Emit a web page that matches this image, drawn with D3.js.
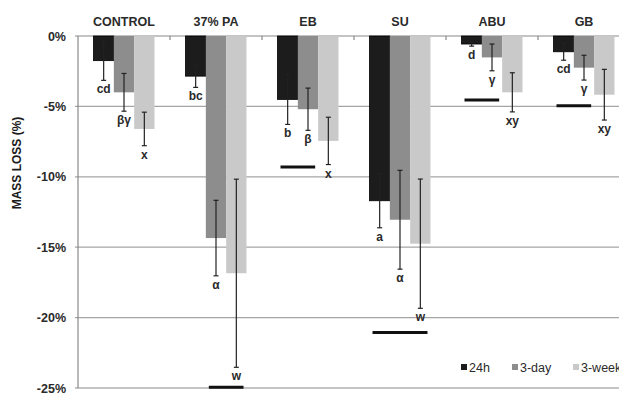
<!DOCTYPE html>
<html>
<head>
<meta charset="utf-8">
<script src="https://cdn.jsdelivr.net/npm/d3@7"></script>
<style>
  body { margin: 0; background: #fff; }
  svg { display: block; font-family: "Liberation Sans", Arial, sans-serif; }
</style>
</head>
<body>
<div id="main"></div>
<script>
/* Size */
const width = 619, height = 393;

/* Data */
const categories = ["CONTROL", "37% PA", "EB", "SU", "ABU", "GB"];
const series = ["24h", "3-day", "3-week"];
const v24h   = [-1.75, -2.85, -4.5, -11.7, -0.57, -1.12];
const v3day  = [-4.0, -14.35, -5.2, -13.05, -1.52, -2.25];
const v3week = [-6.6, -16.85, -7.45, -14.75, -4.0, -4.17];
const err24h   = [1.4, 0.8, 1.78, 1.92, 0.15, 0.6];
const err3day  = [1.34, 2.68, 1.5, 3.51, 0.95, 0.88];
const err3week = [1.19, 6.68, 1.68, 4.59, 1.39, 1.8];
const lab24h   = ["cd", "bc", "b", "a", "d", "cd"];
const lab3day  = ["βγ", "α", "β", "α", "γ", "γ"];
const lab3week = ["x", "w", "x", "w", "xy", "xy"];
const yTicks = [0, -5, -10, -15, -20, -25];
// significance lines: category, first series, last series, level (%)
const sigCat  = ["37% PA", "EB", "SU", "ABU", "GB"];
const sigFrom = ["3-day", "24h", "24h", "24h", "24h"];
const sigTo   = ["3-week", "3-day", "3-week", "3-day", "3-day"];
const sigY    = [-24.95, -9.3, -21.05, -4.55, -4.95];

const colors = {"24h": "#1c1c1c", "3-day": "#8d8d8d", "3-week": "#c9c9c9"};
const values = [v24h, v3day, v3week];
const errs = [err24h, err3day, err3week];
const labels = [lab24h, lab3day, lab3week];

const rows = [];
categories.forEach((c, i) => {
  series.forEach((s, j) => {
    rows.push({cat: c, ser: s, v: values[j][i], e: errs[j][i], lab: labels[j][i]});
  });
});

/* Scales */
const x0 = d3.scaleBand().domain(categories).range([78, 630]).padding(0);
const x1 = d3.scaleBand().domain(series).range([15.5, 76.5]);
const y = d3.scaleLinear().domain([0, -25]).range([36, 388]);

const svg = d3.select("#main").append("svg")
  .attr("width", width).attr("height", height);

/* Grid */
svg.append("g").selectAll("line")
  .data(yTicks).enter().append("line")
  .attr("x1", 75).attr("x2", width)
  .attr("y1", d => y(d)).attr("y2", d => y(d))
  .attr("stroke", d => d === 0 || d === -25 ? "#8a8a8a" : "#a5a5a5")
  .attr("stroke-width", 1.2);

// left axis
svg.append("line")
  .attr("x1", 78).attr("x2", 78).attr("y1", y(0)).attr("y2", y(-25))
  .attr("stroke", "#8a8a8a").attr("stroke-width", 1.2);

// category ticks on the zero line
svg.append("g").selectAll("line")
  .data(categories.slice(1)).enter().append("line")
  .attr("x1", d => x0(d)).attr("x2", d => x0(d))
  .attr("y1", y(0)).attr("y2", y(0) + 4)
  .attr("stroke", "#8a8a8a").attr("stroke-width", 1.2);

// y tick labels
svg.append("g").selectAll("text")
  .data(yTicks).enter().append("text")
  .attr("x", 66).attr("y", d => y(d)).attr("dy", "0.36em")
  .attr("text-anchor", "end")
  .style("font-size", "12.5px").style("font-weight", "bold").style("fill", "#2a2a2a")
  .text(d => d + "%");

// category labels
svg.append("g").selectAll("text")
  .data(categories).enter().append("text")
  .attr("x", d => x0(d) + x0.bandwidth() / 2).attr("y", 25.5)
  .attr("text-anchor", "middle")
  .style("font-size", "12.5px").style("font-weight", "bold").style("fill", "#2a2a2a")
  .text(d => d);

// y title
svg.append("text")
  .attr("transform", "translate(21,163) rotate(-90)")
  .attr("text-anchor", "middle")
  .style("font-size", "12px").style("font-weight", "bold").style("fill", "#1a1a1a")
  .text("MASS LOSS (%)");

/* Bars */
const bx = d => x0(d.cat) + x1(d.ser);
const bw = x1.bandwidth();

svg.append("g").selectAll("rect")
  .data(rows).enter().append("rect")
  .attr("x", bx).attr("y", y(0))
  .attr("width", bw).attr("height", d => y(d.v) - y(0))
  .attr("fill", d => colors[d.ser])
  .attr("stroke", d => d.ser === "24h" ? "#000" : "none")
  .attr("stroke-width", 0.8);

/* Error bars */
const eb = svg.append("g").attr("stroke", "#222").attr("stroke-width", 1.2);
rows.forEach(d => {
  const cx = bx(d) + bw / 2;
  const top = y(d.v + d.e), bot = y(d.v - d.e);
  const col = d.ser === "24h" ? "#222" : "#222";
  eb.append("line").attr("x1", cx).attr("x2", cx).attr("y1", top).attr("y2", bot);
  eb.append("line").attr("x1", cx - 2.5).attr("x2", cx + 2.5).attr("y1", top).attr("y2", top);
  eb.append("line").attr("x1", cx - 2.5).attr("x2", cx + 2.5).attr("y1", bot).attr("y2", bot);
});

// letters
svg.append("g").selectAll("text")
  .data(rows).enter().append("text")
  .attr("x", d => bx(d) + bw / 2)
  .attr("y", d => y(d.v - d.e) + 13)
  .attr("text-anchor", "middle")
  .style("font-size", "12px").style("font-weight", "bold").style("fill", "#2a2a2a")
  .text(d => d.lab);

/* Significance lines */
svg.append("g").selectAll("line")
  .data(sigCat).enter().append("line")
  .attr("x1", (d, i) => x0(d) + x1(sigFrom[i]) + 3)
  .attr("x2", (d, i) => x0(d) + x1(sigTo[i]) + bw - 3)
  .attr("y1", (d, i) => y(sigY[i])).attr("y2", (d, i) => y(sigY[i]))
  .attr("stroke", "#111").attr("stroke-width", 3);

/* Legend */
const lx = [461, 512, 573];
const lg = svg.append("g").selectAll("g")
  .data(series).enter().append("g")
  .attr("transform", (d, i) => `translate(${lx[i]},364)`);
lg.append("rect").attr("width", 6).attr("height", 6).attr("fill", d => colors[d]);
lg.append("text").attr("x", 8).attr("y", 3).attr("dy", "0.36em")
  .style("font-size", "12.5px").style("fill", "#2a2a2a")
  .text(d => d);
</script>
</body>
</html>
